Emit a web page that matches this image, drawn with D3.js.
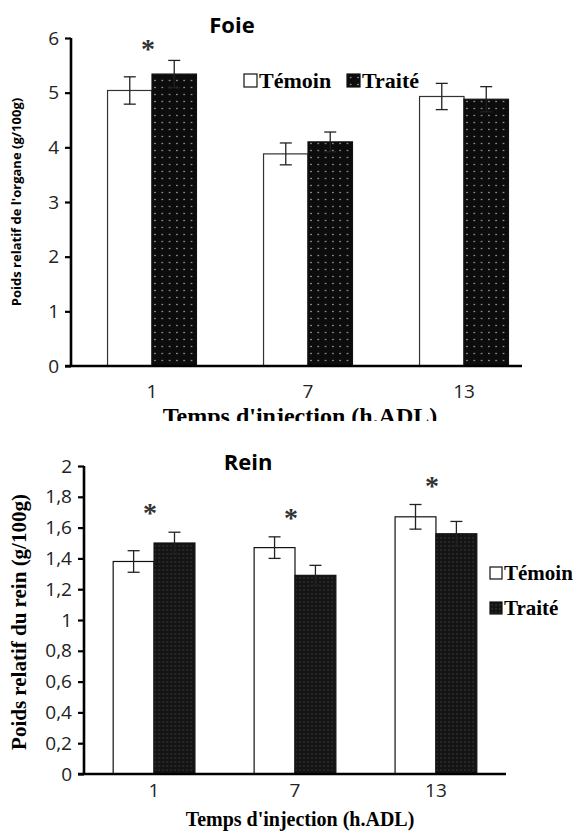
<!DOCTYPE html>
<meta charset="utf-8">
<style>
  body { margin: 0; background: #fff; }
  svg { display: block; }
  .tick text { font-family: "Open Sans", "Liberation Sans", sans-serif; }
  .serifb { font-family: "Liberation Serif", "DejaVu Serif", serif; font-weight: bold; }
  .sansb { font-family: "Open Sans", "Liberation Sans", sans-serif; font-weight: bold; }
</style>
<body>
<div id="graph-container"></div>
<script src="https://cdn.jsdelivr.net/npm/d3@7"></script>
<script>
  // groupes (heures apres l'injection)
  var groups = ["1", "7", "13"];

  // Foie
  var foieTemoin = [5.04, 3.88, 4.93],
      foieTemoinErr = [0.25, 0.20, 0.24],
      foieTraite = [5.34, 4.10, 4.88],
      foieTraiteErr = [0.25, 0.18, 0.23],
      foieStars = [true, false, false],
      foieTicks = [0, 1, 2, 3, 4, 5, 6];

  // Rein
  var reinTemoin = [1.38, 1.47, 1.67],
      reinTemoinErr = [0.07, 0.07, 0.08],
      reinTraite = [1.50, 1.29, 1.56],
      reinTraiteErr = [0.07, 0.065, 0.08],
      reinStars = [true, true, true],
      reinTicks = [0, 0.2, 0.4, 0.6, 0.8, 1, 1.2, 1.4, 1.6, 1.8, 2];

  var series = ["Témoin", "Traité"];

  var W = 578, H = 831;
  var svg = d3.select("#graph-container").append("svg")
      .attr("width", W)
      .attr("height", H);

  var defs = svg.append("defs");

  // motif pointille des barres "Traite"
  function dotPattern(id, size, dot, bg, fg) {
    var p = defs.append("pattern")
        .attr("id", id)
        .attr("patternUnits", "userSpaceOnUse")
        .attr("width", size[0]).attr("height", size[1]);
    p.append("rect").attr("width", size[0]).attr("height", size[1]).attr("fill", bg);
    p.append("rect").attr("x", size[0] / 2 - dot / 2).attr("y", size[1] / 2 - dot / 2)
        .attr("width", dot).attr("height", dot).attr("fill", fg);
  }
  dotPattern("dotsFoie", [7.3, 7], 1.3, "#0c0c0c", "#b8b8b8");
  dotPattern("dotsRein", [4, 4], 1, "#141414", "#5a5a5a");

  defs.append("clipPath").attr("id", "clipTop")
      .append("rect").attr("x", 0).attr("y", 0).attr("width", W).attr("height", 421);

  function drawChart(c) {
    var g = svg.append("g");
    var y = d3.scaleLinear().domain(c.yDomain).range(c.yRange);
    var x0 = d3.scaleBand().domain(groups).range(c.xRange)
        .paddingInner(c.padIn).paddingOuter(c.padOut);
    var x1 = d3.scaleBand().domain(series).range([0, x0.bandwidth()]);

    var rows = groups.map(function(k, i) {
      return { key: k,
        vals: [
          { s: "Témoin", v: c.temoin[i], e: c.temoinErr[i] },
          { s: "Traité", v: c.traite[i], e: c.traiteErr[i] }
        ],
        star: c.stars[i] };
    });

    var grp = g.selectAll(".grp").data(rows).enter().append("g")
        .attr("transform", function(d) { return "translate(" + x0(d.key) + ",0)"; });

    grp.selectAll("rect").data(function(d) { return d.vals; }).enter().append("rect")
        .attr("x", function(d) { return x1(d.s); })
        .attr("y", function(d) { return y(d.v); })
        .attr("width", x1.bandwidth())
        .attr("height", function(d) { return y(0) - y(d.v); })
        .attr("fill", function(d) { return d.s == "Témoin" ? "#fff" : "url(#" + c.pattern + ")"; })
        .attr("stroke", function(d) { return d.s == "Témoin" ? c.barStroke : "#111"; })
        .attr("stroke-width", 1.2);

    // barres d'erreur
    var eb = grp.selectAll(".err").data(function(d) { return d.vals; }).enter().append("g")
        .attr("stroke", "#222").attr("stroke-width", 1.3);
    eb.append("line")
        .attr("x1", function(d) { return x1(d.s) + x1.bandwidth() / 2; })
        .attr("x2", function(d) { return x1(d.s) + x1.bandwidth() / 2; })
        .attr("y1", function(d) { return y(d.v - d.e); })
        .attr("y2", function(d) { return y(d.v + d.e); });
    [1, -1].forEach(function(sg) {
      eb.append("line")
          .attr("x1", function(d) { return x1(d.s) + x1.bandwidth() / 2 - c.cap; })
          .attr("x2", function(d) { return x1(d.s) + x1.bandwidth() / 2 + c.cap; })
          .attr("y1", function(d) { return y(d.v + sg * d.e); })
          .attr("y2", function(d) { return y(d.v + sg * d.e); });
    });

    // etoiles
    grp.filter(function(d) { return d.star; }).append("text")
        .attr("class", "serifb")
        .attr("x", x0.bandwidth() / 2 - 4)
        .attr("y", function(d) {
          var top = d3.max(d.vals, function(v) { return v.v + v.e; });
          return y(top) - c.starGap;
        })
        .attr("text-anchor", "middle")
        .attr("font-size", 28)
        .attr("fill", "#333")
        .text("*");

    // axe Y
    var ya = g.append("g")
        .attr("transform", "translate(" + c.yAxisX + ",0)")
        .call(d3.axisLeft(y).tickValues(c.ticks).tickSize(6).tickPadding(6)
            .tickFormat(function(d) { return String(d).replace(".", ","); }));
    ya.select(".domain").attr("stroke-width", 2.6).attr("d",
        "M0," + y(c.yDomain[1]) + "V" + y(0));
    ya.selectAll(".tick line").attr("stroke-width", 2.2);
    ya.selectAll(".tick text").attr("font-size", c.tickFont).attr("fill", "#222");

    // axe X
    var xa = g.append("g")
        .attr("transform", "translate(0," + y(0) + ")")
        .call(d3.axisBottom(x0).tickSize(0).tickPadding(c.xTickPad));
    xa.select(".domain").attr("stroke-width", 2.6)
        .attr("d", "M" + (c.yAxisX - 6) + ",0H" + c.xAxisEnd);
    xa.selectAll(".tick text").attr("font-size", c.tickFont).attr("fill", "#222");

    // titre
    g.append("text").attr("class", "sansb")
        .attr("x", c.title[1]).attr("y", c.title[2])
        .attr("text-anchor", "middle").attr("font-size", 22)
        .text(c.title[0]);

    // titre axe Y
    g.append("text").attr("class", c.yLabelClass)
        .attr("transform", "translate(" + c.yLabel[1] + "," + c.yLabel[2] + ") rotate(-90)")
        .attr("text-anchor", "middle").attr("font-size", c.yLabel[3])
        .text(c.yLabel[0]);

    // titre axe X
    g.append("text").attr("class", "serifb")
        .attr("x", c.xLabel[0]).attr("y", c.xLabel[1])
        .attr("text-anchor", "middle").attr("font-size", c.xLabel[2])
        .attr("clip-path", c.xClip || null)
        .text("Temps d'injection (h.ADL)");

    // legende
    var lg = g.selectAll(".leg").data(series).enter().append("g")
        .attr("transform", function(d, i) {
          return "translate(" + c.legend[i][0] + "," + c.legend[i][1] + ")";
        });
    lg.append("rect")
        .attr("x", 0).attr("y", -c.legendBox - 1)
        .attr("width", c.legendBox).attr("height", c.legendBox)
        .attr("fill", function(d) { return d == "Témoin" ? "#fff" : "url(#" + c.pattern + ")"; })
        .attr("stroke", "#111").attr("stroke-width", 1.2);
    lg.append("text").attr("class", "serifb")
        .attr("x", c.legendBox + 2).attr("y", 0)
        .attr("font-size", c.legendFont)
        .text(function(d) { return d; });
  }

  drawChart({
    temoin: foieTemoin, temoinErr: foieTemoinErr,
    traite: foieTraite, traiteErr: foieTraiteErr, stars: foieStars,
    ticks: foieTicks, yDomain: [0, 6], yRange: [366, 38],
    xRange: [74, 542], padIn: 0.43, padOut: 0.215,
    yAxisX: 71, xAxisEnd: 522, pattern: "dotsFoie", barStroke: "#333",
    cap: 6, starGap: 2, tickFont: 19, xTickPad: 19,
    title: ["Foie", 232, 33],
    yLabel: ["Poids relatif de l'organe (g/100g)", 21, 202, 13], yLabelClass: "sansb",
    xLabel: [300, 424, 24], xClip: "url(#clipTop)",
    legend: [[244, 88], [347, 88]], legendBox: 13, legendFont: 22
  });

  drawChart({
    temoin: reinTemoin, temoinErr: reinTemoinErr,
    traite: reinTraite, traiteErr: reinTraiteErr, stars: reinStars,
    ticks: reinTicks, yDomain: [0, 2], yRange: [774, 466],
    xRange: [84, 506], padIn: 0.42, padOut: 0.207,
    yAxisX: 84, xAxisEnd: 506, pattern: "dotsRein", barStroke: "#111",
    cap: 6, starGap: 10, tickFont: 19, xTickPad: 10,
    title: ["Rein", 248, 470],
    yLabel: ["Poids relatif du rein (g/100g)", 26, 622, 21], yLabelClass: "serifb",
    xLabel: [300, 826, 20],
    legend: [[490, 580], [490, 615]], legendBox: 12, legendFont: 21
  });
</script>
</body>
